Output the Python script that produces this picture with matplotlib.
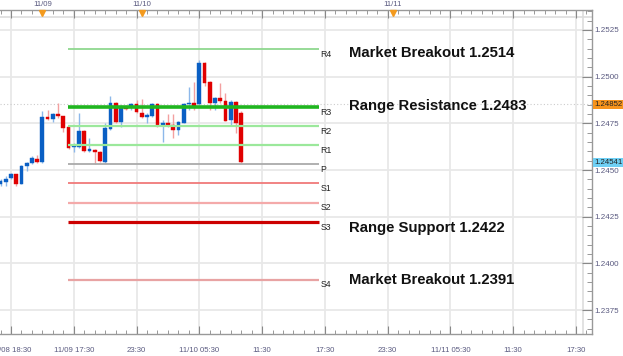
import matplotlib.pyplot as plt
from matplotlib.ticker import FixedLocator, MultipleLocator

# half-hour candles (t in hours from 11/08 18:30 on the compressed axis)
opens = [1.24426, 1.24436, 1.24458, 1.24479, 1.24426, 1.24522, 1.24538, 1.24560,
         1.24543, 1.24784, 1.24774, 1.24800, 1.24790, 1.24731, 1.24624, 1.24624,
         1.24709, 1.24602, 1.24608, 1.24597, 1.24543, 1.24720, 1.24859, 1.24758,
         1.24838, 1.24838, 1.24854, 1.24806, 1.24784, 1.24790, 1.24854, 1.24741,
         1.24752, 1.24741, 1.24715, 1.24752, 1.24854, 1.24859, 1.24854, 1.25073,
         1.24972, 1.24859, 1.24886, 1.24870, 1.24768, 1.24865, 1.24806]
highs = [1.24452, 1.24468, 1.24486, 1.24481, 1.24527, 1.24543, 1.24576, 1.24581,
         1.24816, 1.24822, 1.24806, 1.24859, 1.24792, 1.24733, 1.24645, 1.24806,
         1.24715, 1.24672, 1.24610, 1.24602, 1.24752, 1.24897, 1.24865, 1.24849,
         1.24849, 1.24859, 1.24875, 1.24881, 1.24806, 1.24859, 1.24859, 1.24768,
         1.24800, 1.24800, 1.24760, 1.24859, 1.24945, 1.24972, 1.25089, 1.25079,
         1.24975, 1.24891, 1.24966, 1.24913, 1.24875, 1.24868, 1.24816]
lows = [1.24415, 1.24415, 1.24452, 1.24417, 1.24424, 1.24495, 1.24535, 1.24540,
        1.24540, 1.24768, 1.24758, 1.24779, 1.24704, 1.24613, 1.24597, 1.24620,
        1.24597, 1.24597, 1.24533, 1.24543, 1.24540, 1.24715, 1.24752, 1.24731,
        1.24822, 1.24822, 1.24806, 1.24779, 1.24752, 1.24784, 1.24731, 1.24650,
        1.24731, 1.24672, 1.24688, 1.24750, 1.24822, 1.24822, 1.24849, 1.24950,
        1.24822, 1.24822, 1.24859, 1.24760, 1.24741, 1.24699, 1.24538]
closes = [1.24442, 1.24452, 1.24479, 1.24426, 1.24522, 1.24538, 1.24565, 1.24543,
          1.24784, 1.24774, 1.24800, 1.24790, 1.24725, 1.24618, 1.24634, 1.24709,
          1.24602, 1.24613, 1.24597, 1.24549, 1.24725, 1.24859, 1.24758, 1.24838,
          1.24827, 1.24854, 1.24811, 1.24784, 1.24795, 1.24854, 1.24736, 1.24752,
          1.24736, 1.24715, 1.24758, 1.24854, 1.24859, 1.24843, 1.25073, 1.24966,
          1.24859, 1.24886, 1.24870, 1.24763, 1.24865, 1.24752, 1.24541]
times = [-1.0 + 0.5 * i for i in range(len(opens))]

# pivot levels
pivot_names = ["R4", "R3", "R2", "R1", "P", "S1", "S2", "S3", "S4"]
pivot_values = [1.25148, 1.24838, 1.24736, 1.24634, 1.24533, 1.24429, 1.24326, 1.24222, 1.23913]
pivot_colors = ["#8fd88f", "#1fb51f", "#9be89b", "#9be89b", "#aaaaaa",
                "#f07a7a", "#f4aaaa", "#cc0000", "#e8a3a3"]
pivot_widths = [1.3, 2.6, 1.6, 1.6, 1.3, 1.3, 1.6, 2.3, 1.6]

notes = ["Market Breakout 1.2514", "Range Resistance 1.2483",
         "Range Support 1.2422", "Market Breakout 1.2391"]
note_values = [1.25127, 1.24843, 1.24190, 1.23912]

x_ticks = [0, 6, 12, 18, 24, 30, 36, 42, 48, 54]
x_labels = ["11/08 18:30", "11/09 17:30", "23:30", "11/10 05:30", "11:30",
            "17:30", "23:30", "11/11 05:30", "11:30", "17:30"]
day_ticks = [3, 12.5, 36.5]
day_labels = ["11/09", "11/10", "11/11"]
y_ticks = [1.2375, 1.2400, 1.2425, 1.2450, 1.2475, 1.2500, 1.2525]

last_price = 1.24541
marker_price = 1.24852

plt.rcParams['font.family'] = ['Liberation Sans', 'DejaVu Sans']
axis_color = "#5a5a80"

fig = plt.figure(figsize=(6.23, 3.56), dpi=100)
ax = fig.add_axes([0, 22 / 356, 592 / 623, 324 / 356])
ax.set_xlim(-1.05, 55.53)
ax.set_ylim(1.23622, 1.25357)

# grid
for xt in x_ticks:
    ax.axvline(xt, color="#e8e8e8", lw=1.3, zorder=0)
for yt in y_ticks:
    ax.axhline(yt, color="#e8e8e8", lw=1.3, zorder=0)
ax.axhline(1.2532, color="#dddddd", lw=1.2, zorder=0)
ax.axvline(54.67, color="#dddddd", lw=1.2, zorder=0)
ax.axhline(marker_price, color="#cccccc", lw=0.8, ls=(0, (1, 2)), zorder=0)

# candles
for t, o, h, l, c in zip(times, opens, highs, lows, closes):
    up = c >= o
    body_col = "#0a5fc4" if up else "#e00000"
    wick_col = "#8db8ea" if up else "#f3a0a0"
    ax.vlines(t, l, h, color=wick_col, lw=1.0, zorder=2)
    ax.bar(t, max(abs(c - o), 0.00003), bottom=min(o, c), width=0.36,
           color=body_col, edgecolor=body_col, lw=0.3, zorder=3)

# pivots
for name, val, col, lw in zip(pivot_names, pivot_values, pivot_colors, pivot_widths):
    ax.hlines(val, 5.45, 29.45, color=col, lw=lw, zorder=4)
    ax.text(29.6, val - 0.00004, name, fontsize=6.3, color="#222222",
            ha="left", va="top", zorder=5)

for txt, val in zip(notes, note_values):
    ax.text(32.3, val, txt, fontsize=10.7, fontweight="bold", color="#111111",
            ha="left", va="center", zorder=5)

# axes styling
ax.spines["left"].set_visible(False)
for s in ["top", "bottom", "right"]:
    ax.spines[s].set_color("#999999")
    ax.spines[s].set_linewidth(1.0)

ax.xaxis.set_major_locator(FixedLocator(x_ticks))
ax.xaxis.set_minor_locator(MultipleLocator(1))
ax.set_xticklabels(x_labels)
ax.tick_params(axis="x", which="major", direction="in", length=6, color="#888888",
               top=True, bottom=True, labelsize=5.6, labelcolor=axis_color, pad=9.5)
ax.tick_params(axis="x", which="minor", direction="in", length=3, color="#888888",
               top=True, bottom=True)

ax.yaxis.tick_right()
ax.yaxis.set_major_locator(FixedLocator(y_ticks))
ax.yaxis.set_minor_locator(MultipleLocator(0.0005))
ax.set_yticklabels(["%.4f" % v for v in y_ticks])
ax.tick_params(axis="y", which="major", direction="in", length=7, color="#888888",
               labelsize=5.8, labelcolor=axis_color, pad=2)
ax.tick_params(axis="y", which="minor", direction="in", length=3.5, color="#888888")

# day markers on top
for dt, dl in zip(day_ticks, day_labels):
    ax.plot(dt, 1.25341, marker="v", color="#f39a1e", ms=4.5, clip_on=False, zorder=6)
    ax.text(dt, 1.25384, dl, fontsize=5.6, color=axis_color, ha="center",
            va="center", clip_on=False)

# price tags
ax.text(55.72, marker_price, "%.5f" % marker_price, fontsize=5.6, color="#222222",
        ha="left", va="center", clip_on=False,
        bbox=dict(boxstyle="square,pad=0.15", fc="#f7941d", ec="none"))
ax.text(55.72, last_price, "%.5f" % last_price, fontsize=5.6, color="#222222",
        ha="left", va="center", clip_on=False,
        bbox=dict(boxstyle="square,pad=0.15", fc="#6fd0f5", ec="none"))

fig.savefig("out.png", dpi=100)
